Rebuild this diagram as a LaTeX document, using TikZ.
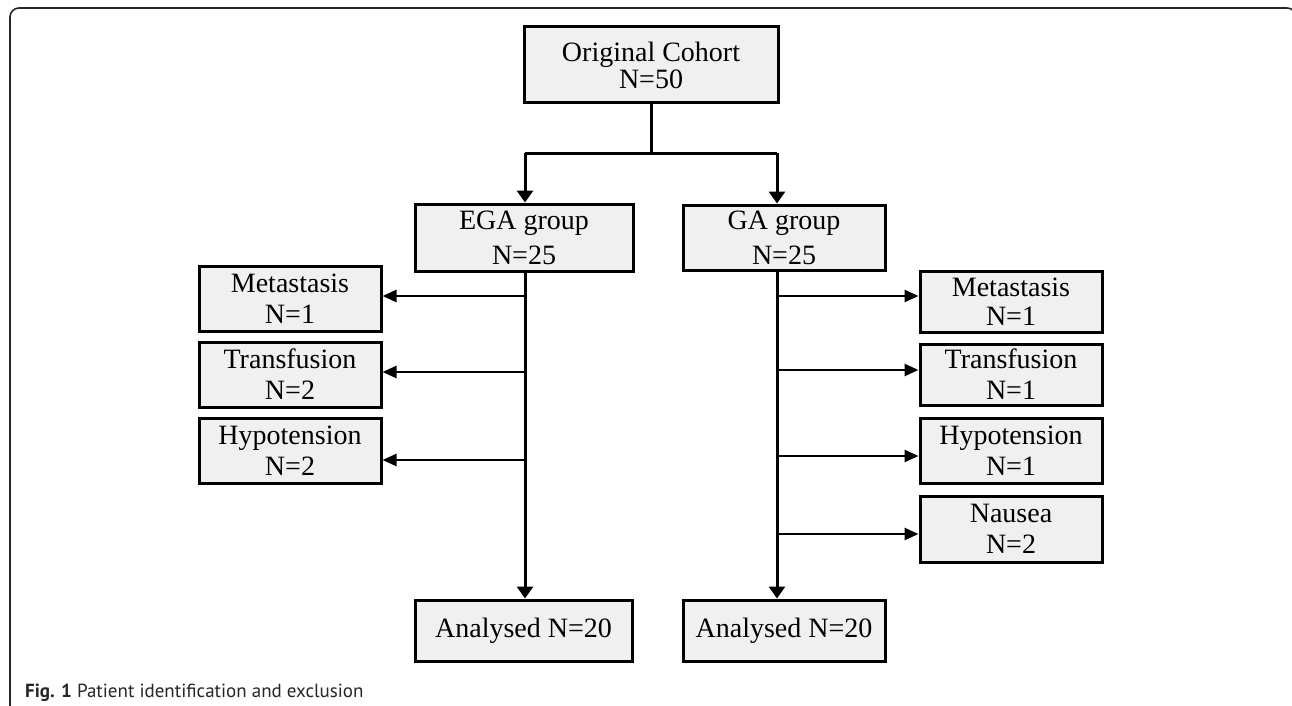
\documentclass[tikz,border=0pt]{standalone}
\usepackage{fontspec}
\setmainfont{Liberation Serif}
\newfontfamily\capfont{PT Sans}
\usetikzlibrary{arrows.meta,shadows}
\begin{document}
\begin{tikzpicture}[x=1pt,y=-1pt,
  box/.style={draw=black, line width=3pt, fill=black!6, inner sep=0pt, align=center,
    font=\fontsize{28}{31}\selectfont,
    drop shadow={shadow xshift=1.5pt, shadow yshift=-1.5pt, fill=black!30, opacity=1}},
  sidebox/.style={box, minimum width=182pt, minimum height=65pt},
  link/.style={line width=3pt},
  downarr/.style={line width=3pt, -{Triangle[length=12pt,width=16pt]}},
  sidearr/.style={line width=2.5pt, -{Triangle[length=14pt,width=12pt]}},
  frame/.style={line width=1.6pt, rounded corners=9pt, black!85},
]
\useasboundingbox (0,0) rectangle (1292,706);
\fill[white] (0,0) rectangle (1292,706);
\draw[frame] (10,720) -- (10,8) -- (1296,8) -- (1296,720);

% main boxes
\node[box, minimum width=254pt, minimum height=76pt, font=\fontsize{28}{27}\selectfont] (orig) at (651,65) {Original Cohort\\N=50};
\node[box, minimum width=218pt, minimum height=67pt, font=\fontsize{28}{35}\selectfont] (ega) at (524,237.5) {EGA group\\N=25};
\node[box, minimum width=202pt, minimum height=65pt, font=\fontsize{28}{35}\selectfont] (ga) at (784,237.5) {GA group\\N=25};
\node[box, minimum width=217pt, minimum height=61pt] (anaL) at (523.5,630.5) {Analysed N=20};
\node[box, minimum width=202pt, minimum height=61pt] (anaR) at (784,630.5) {Analysed N=20};

% left exclusion boxes
\node[sidebox] (metL) at (290,298.5) {Metastasis\\N=1};
\node[sidebox] (traL) at (290,374.5) {Transfusion\\N=2};
\node[sidebox] (hypL) at (290,450.5) {Hypotension\\N=2};

% right exclusion boxes
\node[sidebox, minimum height=61pt, font=\fontsize{28}{29}\selectfont] (metR) at (1011,301.5) {Metastasis\\N=1};
\node[sidebox, minimum height=61pt] (traR) at (1011,374.5) {Transfusion\\N=1};
\node[sidebox] (hypR) at (1011,450.5) {Hypotension\\N=1};
\node[sidebox, minimum height=66pt] (nauR) at (1011,529) {Nausea\\N=2};

% split coordinates
\coordinate (split) at (651,153);
\coordinate (jl) at (525,153);
\coordinate (jr) at (777,153);
\coordinate (vl) at (525,271);
\coordinate (vr) at (777,270);

\draw[link] (orig.south) -- (split);
\draw[link] (jl) -- (jr);
\draw[downarr] (jl) -- (jl |- ega.north);
\draw[downarr] (jr) -- (jr |- ga.north);

% vertical trunks
\draw[downarr] (vl) -- (vl |- anaL.north);
\draw[downarr] (vr) -- (vr |- anaR.north);

% left branches
\coordinate (bl1) at (525,296);
\coordinate (bl2) at (525,372);
\coordinate (bl3) at (525,460);
\draw[sidearr] (bl1) -- (bl1 -| metL.east);
\draw[sidearr] (bl2) -- (bl2 -| traL.east);
\draw[sidearr] (bl3) -- (bl3 -| hypL.east);

% right branches
\coordinate (br1) at (777,296);
\coordinate (br2) at (777,370);
\coordinate (br3) at (777,456);
\coordinate (br4) at (777,534);
\draw[sidearr] (br1) -- (br1 -| metR.west);
\draw[sidearr] (br2) -- (br2 -| traR.west);
\draw[sidearr] (br3) -- (br3 -| hypR.west);
\draw[sidearr] (br4) -- (br4 -| nauR.west);

% caption
\node[anchor=base west, inner sep=0pt, text=black!85, font=\capfont\fontsize{19}{19}\selectfont] (cap) at (25,697) {\textbf{Fig. 1} Patient identification and exclusion};
\end{tikzpicture}
\end{document}
